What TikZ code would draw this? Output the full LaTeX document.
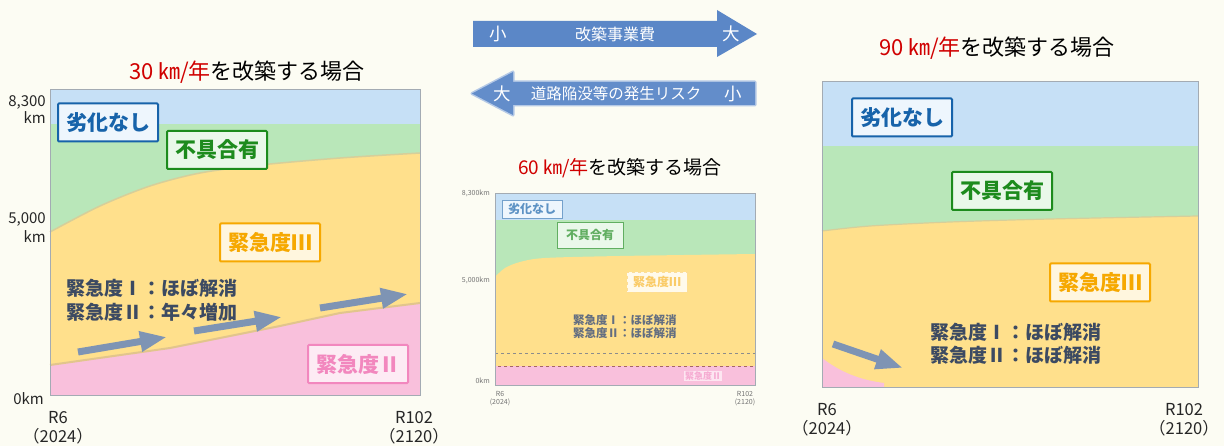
\documentclass[tikz,border=0pt]{standalone}
\usepackage{fontspec}
\setmainfont{Noto Sans CJK JP}
\usetikzlibrary{arrows.meta}
\definecolor{bg}{HTML}{FCFCF3}
\definecolor{bandBlue}{HTML}{C6E0F6}
\definecolor{bandGreen}{HTML}{B9E7B9}
\definecolor{bandYellow}{HTML}{FFE08C}
\definecolor{bandPink}{HTML}{F9C0DC}
\definecolor{cBlue}{HTML}{1763AA}
\definecolor{cBlueF}{HTML}{EEF6FD}
\definecolor{cGreen}{HTML}{1D8B1D}
\definecolor{cGreenF}{HTML}{EAF8EA}
\definecolor{cOrange}{HTML}{F6A800}
\definecolor{cOrangeF}{HTML}{FFF6DE}
\definecolor{cPink}{HTML}{F287BE}
\definecolor{cPinkF}{HTML}{FDEBF4}
\definecolor{cSlate}{HTML}{3C4A62}
\definecolor{cTrend}{HTML}{7E94B4}
\definecolor{cTop}{HTML}{5B87C7}
\definecolor{cTitleRed}{HTML}{D00000}
\definecolor{cFrame}{HTML}{A3ABB3}
\definecolor{cEdge}{HTML}{E2C58C}
\tikzset{
  lblbox/.style={draw, line width=2pt, rounded corners=1pt, minimum width=100pt,
    minimum height=38pt, inner sep=0pt, font=\fontsize{21}{21}\selectfont\bfseries},
  bluebox/.style={lblbox, draw=cBlue, fill=cBlueF, text=cBlue},
  greenbox/.style={lblbox, draw=cGreen, fill=cGreenF, text=cGreen},
  orangebox/.style={lblbox, draw=cOrange, fill=cOrangeF, text=cOrange},
  pinkbox/.style={lblbox, draw=cPink, fill=cPinkF, text=cPink},
  smallbox/.style={draw, line width=0.8pt, minimum width=60pt, minimum height=18pt,
    inner sep=0pt, font=\fontsize{12}{12}\selectfont\bfseries},
  note/.style={anchor=west, inner sep=0pt, text=cSlate, font=\fontsize{19}{19}\selectfont\bfseries},
  smallnote/.style={anchor=west, inner sep=0pt, text=cSlate!80, font=\fontsize{11.5}{11.5}\selectfont\bfseries},
  trend/.style={cTrend, line width=7pt, -{Triangle[length=27pt,width=19pt]}},
  charttitle/.style={inner sep=0pt, font=\fontsize{22}{22}\selectfont},
  axislbl/.style={inner sep=0pt, text=black!85, font=\fontsize{16.5}{19}\selectfont, align=center},
  ylbl/.style={inner sep=0pt, text=black!85, font=\fontsize{15}{17}\selectfont, align=right, anchor=east},
  tinylbl/.style={inner sep=0pt, text=black!55, font=\fontsize{7}{8}\selectfont, align=center},
  frame/.style={draw=cFrame, line width=1pt},
  toptext/.style={inner sep=0pt, text=white, font=\fontsize{16}{16}\selectfont},
}
\begin{document}
\begin{tikzpicture}[x=1pt,y=-1pt]
\path[use as bounding box, fill=bg] (0,0) rectangle (1224,446);

% ================= top arrows =================
\fill[cTop] (473,21) -- (717,21) -- (717,10) -- (757,34) -- (717,57) -- (717,47) -- (473,47) -- cycle;
\node[toptext, font=\fontsize{17.5}{17.5}\selectfont] (costS) at (498,34) {小};
\node[toptext] (cost) at (615,34) {改築事業費};
\node[toptext, font=\fontsize{17.5}{17.5}\selectfont] (costL) at (731,34) {大};
\draw[cTop!45, line width=3pt, line join=round] (755,82) -- (513,82) -- (513,72) -- (472,93.5) -- (513,115) -- (513,105) -- (755,105) -- cycle;
\fill[cTop!95] (755,82) -- (513,82) -- (513,72) -- (472,93.5) -- (513,115) -- (513,105) -- (755,105) -- cycle;
\node[toptext, font=\fontsize{17.5}{17.5}\selectfont] (riskL) at (502,94) {大};
\node[toptext, font=\fontsize{15.5}{15.5}\selectfont] (risk) at (616,94) {道路陥没等の発生リスク};
\node[toptext, font=\fontsize{17.5}{17.5}\selectfont] (riskS) at (733,94) {小};

% ================= left chart (30 km) =================
\node[charttitle] (t30) at (247,72) {\textcolor{cTitleRed}{30 ㎞/年}を改築する場合};
\fill[bandBlue] (50,90) rectangle (420,124);
\fill[bandGreen] (50,124) rectangle (420,395);
\fill[bandYellow] plot[smooth] coordinates {(50,232) (100,206) (150,186) (200,173) (260,165) (340,158) (420,153)} -- (420,395) -- (50,395) -- cycle;
\draw[cEdge!70!bandGreen, line width=1.5pt] plot[smooth] coordinates {(50,232) (100,206) (150,186) (200,173) (260,165) (340,158) (420,153)};
\fill[bandPink] (50,365) -- (170,348) -- (280,326) -- (340,313) -- (420,303) -- (420,395) -- (50,395) -- cycle;
\draw[cEdge, line width=2pt] (50,365) -- (170,348) -- (280,326) -- (340,313) -- (420,303);
\draw[frame] (50,90) rectangle (420,395);

\node[ylbl] (y83a) at (46,110) {8,300\\km};
\node[ylbl] (y50a) at (46,228) {5,000\\[2pt]km};
\node[ylbl] (y0a) at (44,399) {0km};
\node[axislbl] (r6a) at (58,428) {R6\\（2024）};
\node[axislbl] (r102a) at (414,428) {R102\\（2120）};

\node[bluebox] (n30a) at (108,122.5) {劣化なし};
\node[greenbox] (n30b) at (217,150) {不具合有};
\node[orangebox] (n30c) at (270,242.5) {緊急度Ⅲ};
\node[pinkbox] (n30d) at (358,364) {緊急度Ⅱ};
\node[note] (n30e) at (66,288) {緊急度Ⅰ：ほぼ解消};
\node[note] (n30f) at (66,312) {緊急度Ⅱ：年々増加};
\coordinate (a1s) at (78,352); \coordinate (a1e) at (167,337);
\coordinate (a2s) at (194,331); \coordinate (a2e) at (282,317);
\coordinate (a3s) at (320,308); \coordinate (a3e) at (408,294);
\draw[trend] (a1s) -- (a1e);
\draw[trend] (a2s) -- (a2e);
\draw[trend] (a3s) -- (a3e);

% ================= middle chart (60 km) =================
\node[charttitle, font=\fontsize{19}{19}\selectfont] (t60) at (620,168) {\textcolor{cTitleRed}{60 ㎞/年}を改築する場合};
\fill[bandBlue] (495,193) rectangle (755,220);
\fill[bandGreen] (495,220) rectangle (755,385);
\fill[bandYellow] plot[smooth] coordinates {(495,277) (505,268) (520,262) (545,258) (620,256) (755,254)} -- (755,385) -- (495,385) -- cycle;
\fill[bandPink] (495,366) rectangle (755,385);
\draw[black!45, line width=0.8pt, dashed] (495,353) -- (755,353);
\draw[red!40!black!60, line width=0.8pt, dashed] (495,366) rectangle (755,385);
\draw[frame, line width=0.6pt] (495,193) rectangle (755,385);
\node[tinylbl, anchor=east] (y83b) at (490,193) {8,300km};
\node[tinylbl, anchor=east] (y50b) at (490,280) {5,000km};
\node[tinylbl, anchor=east] (y0b) at (490,381) {0km};
\node[tinylbl] (r6b) at (500,399) {R6\\(2024)};
\node[tinylbl] (r102b) at (745,399) {R102\\(2120)};
\node[smallbox, draw=cBlue!60, fill=cBlueF, text=cBlue!70] (n60a) at (532,209) {劣化なし};
\node[smallbox, draw=cGreen!70, fill=cGreenF, text=cGreen!70, minimum width=66pt, minimum height=26pt] (n60b) at (590,235) {不具合有};
\node[smallbox, draw=cOrange!40, fill=cOrangeF!60, text=cOrange!60, dashed, minimum height=20pt] (n60c) at (657,282) {緊急度Ⅲ};
\node[smallnote] (n60e) at (573,320) {緊急度Ⅰ：ほぼ解消};
\node[smallnote] (n60f) at (573,333) {緊急度Ⅱ：ほぼ解消};
\node[inner sep=1pt, fill=white!60!bandPink, text=cPink!70, font=\fontsize{9}{9}\selectfont\bfseries] (n60d) at (703,376) {緊急度Ⅱ};

% ================= right chart (90 km) =================
\node[charttitle] (t90) at (997,48) {\textcolor{cTitleRed}{90 ㎞/年}を改築する場合};
\fill[bandBlue] (822,82) rectangle (1198,146);
\fill[bandGreen] (822,146) rectangle (1198,387);
\fill[bandYellow] plot[smooth] coordinates {(822,231) (870,226) (950,222) (1050,219) (1198,216)} -- (1198,387) -- (822,387) -- cycle;
\draw[cEdge!70!bandGreen, line width=1.2pt] plot[smooth] coordinates {(822,231) (870,226) (950,222) (1050,219) (1198,216)};
\fill[bandPink] (822,358) .. controls (840,372) and (860,380) .. (884,383) -- (884,387) -- (822,387) -- cycle;
\draw[frame] (822,82) rectangle (1198,387);
\node[bluebox] (n90a) at (902,117.5) {劣化なし};
\node[greenbox] (n90b) at (1002,191) {不具合有};
\node[orangebox] (n90c) at (1100,282.5) {緊急度Ⅲ};
\node[note] (n90e) at (930,332) {緊急度Ⅰ：ほぼ解消};
\node[note] (n90f) at (930,355) {緊急度Ⅱ：ほぼ解消};
\coordinate (a4s) at (833,344); \coordinate (a4e) at (903,368);
\draw[trend] (a4s) -- (a4e);
\node[axislbl] (r6c) at (827,420) {R6\\（2024）};
\node[axislbl] (r102c) at (1184,420) {R102\\（2120）};
\end{tikzpicture}
\end{document}
